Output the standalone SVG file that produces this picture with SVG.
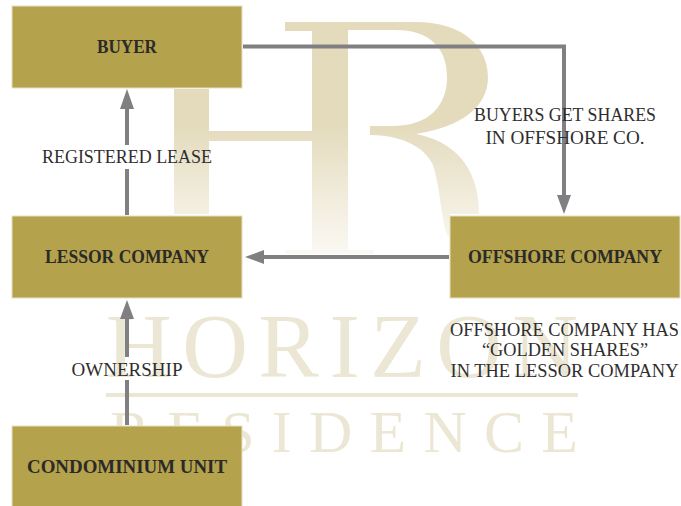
<svg xmlns="http://www.w3.org/2000/svg" width="681" height="506" viewBox="0 0 681 506">
<style>
.box{fill:#b4a24c;stroke:#e6dfc4;stroke-width:1}
.n{font-family:"Liberation Serif",serif;font-weight:bold;font-size:18.500px;fill:#2b2a29;text-anchor:middle}
.l{font-family:"Liberation Serif",serif;font-size:19px;fill:#2f2e2d;text-anchor:middle}
.w{font-family:"Liberation Serif",serif;fill:#ece7d4}
.c{fill:none;stroke:#808083;stroke-width:4}
.h{fill:#808083}
</style>
<defs><linearGradient id="g" gradientUnits="userSpaceOnUse" x1="0" y1="125" x2="0" y2="255"><stop offset="0" stop-color="#e4dbbd"/><stop offset="1" stop-color="#fbf9f4"/></linearGradient></defs>
<g id="watermark">
<path fill="url(#g)" d="M174 89H209V131H312V31H285V22H415C465 22 488 48 488 77C488 108 460 127 416 134C452 141 479 165 479 214H450V236H448C441 222 441 190 433 165C424 146 400 135 370 135V126H392C430 126 447 105 447 77C447 48 430 30 395 30H348V250H374V254H285V250H312V141H209V214H174Z"/>
<text class="w" x="106" y="377" font-size="91" textLength="472" lengthAdjust="spacing">HORIZON</text>
<rect x="106" y="393" width="472" height="4" fill="#ece7d4"/>
<text class="w" x="110" y="452" font-size="60" textLength="468" lengthAdjust="spacing">RESIDENCE</text>
</g>
<g id="connectors">
<path class="c" d="M127 215V169M127 145V107"/><path class="h" d="M127 89L134 109H120Z"/>
<path class="c" d="M127 425V380M127 357V317"/><path class="h" d="M127 300L134 319H120Z"/>
<path class="c" d="M243 46.500H564V197"/><path class="h" d="M564 214L557 195H571Z"/>
<path class="c" d="M449 257H261"/><path class="h" d="M245 257L264 250V264Z"/>
</g>
<g id="buyer"><rect class="box" x="12" y="6" width="230" height="82"/><text class="n" x="127" y="53" textLength="60" lengthAdjust="spacingAndGlyphs">BUYER</text></g>
<g id="lessor"><rect class="box" x="12" y="216" width="230" height="82"/><text class="n" x="127" y="263" textLength="164" lengthAdjust="spacingAndGlyphs">LESSOR COMPANY</text></g>
<g id="offshore"><rect class="box" x="450" y="216" width="230" height="82"/><text class="n" x="565" y="263" textLength="194" lengthAdjust="spacingAndGlyphs">OFFSHORE COMPANY</text></g>
<g id="condo"><rect class="box" x="12" y="426" width="230" height="81"/><text class="n" x="127" y="473" textLength="200" lengthAdjust="spacingAndGlyphs">CONDOMINIUM UNIT</text></g>
<g id="labels">
<text class="l" x="127" y="163" textLength="170" lengthAdjust="spacingAndGlyphs">REGISTERED LEASE</text>
<text class="l" x="565" y="121" textLength="182" lengthAdjust="spacingAndGlyphs">BUYERS GET SHARES</text>
<text class="l" x="565" y="144" textLength="159" lengthAdjust="spacingAndGlyphs">IN OFFSHORE CO.</text>
<text class="l" x="127" y="376" textLength="111" lengthAdjust="spacingAndGlyphs">OWNERSHIP</text>
<text class="l" x="564.500" y="336" textLength="229" lengthAdjust="spacingAndGlyphs">OFFSHORE COMPANY HAS</text>
<text class="l" x="565" y="356" textLength="166" lengthAdjust="spacingAndGlyphs">“GOLDEN SHARES”</text>
<text class="l" x="564.500" y="377" textLength="228" lengthAdjust="spacingAndGlyphs">IN THE LESSOR COMPANY</text>
</g>
</svg>
